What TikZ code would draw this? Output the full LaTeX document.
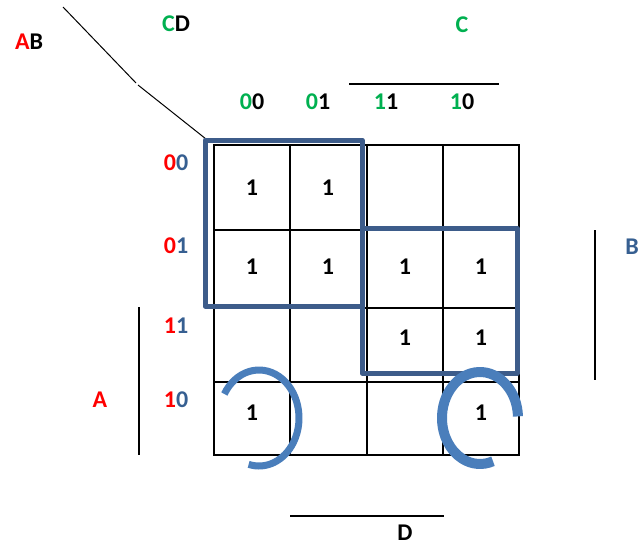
\documentclass[tikz,border=0pt]{standalone}
\usepackage{fontspec}
\setmainfont{Carlito}
\usepackage{xcolor}
\usetikzlibrary{positioning, calc}

\definecolor{kred}{RGB}{255,0,0}
\definecolor{kgreen}{RGB}{0,176,80}
\definecolor{kblue}{RGB}{54,95,145}
\definecolor{loopblue}{RGB}{61,92,138}
\definecolor{arcblue}{RGB}{74,126,187}

\begin{document}
\begin{tikzpicture}[
    x=1pt, y=-1pt,
    font=\fontsize{24}{26}\selectfont\bfseries,
    lbl/.style={
        inner sep=0pt,
        anchor=center
    },
    cellone/.style={
        lbl
    },
    gridline/.style={
        line width=2pt,
        draw=black
    },
    bar/.style={
        line width=1.6pt,
        draw=black
    },
    groupbox/.style={
        line width=5pt,
        draw=loopblue,
        line join=round
    },
    wrap/.style={
        draw=arcblue
    }
]
\useasboundingbox (0,0) rectangle (638,546);

% --- Corner labels -----------------------------------------------------------

\node[lbl] (ab) at (29,42) {\textcolor{kred}{A}B};
\node[lbl] (cd) at (176,24) {\textcolor{kgreen}{C}D};

\coordinate (diagtop) at (63,7);
\coordinate (diagmid) at (136,83);
\coordinate (diagmid2) at (138,85);
\coordinate (diagend) at (206,139);
\draw[line width=1pt] (diagtop) -- (diagmid);
\draw[line width=1pt] (diagmid2) -- (diagend);

% --- Column headers ----------------------------------------------------------

\node[lbl] (c00) at (252,102) {\textcolor{kgreen}{0}0};
\node[lbl] (c01) at (318,102) {\textcolor{kgreen}{0}1};
\node[lbl] (c11) at (386,102) {\textcolor{kgreen}{1}1};
\node[lbl] (c10) at (462,102) {\textcolor{kgreen}{1}0};

\node[lbl, text=kgreen] (clbl) at (462,25) {C};
\coordinate (cbarl) at (349,84);
\coordinate (cbarr) at (499,84);
\draw[bar] (cbarl) -- (cbarr);

% --- Row headers -------------------------------------------------------------

\node[lbl] (r00) at (176,163) {\textcolor{kred}{0}\textcolor{kblue}{0}};
\node[lbl] (r01) at (176,246) {\textcolor{kred}{0}\textcolor{kblue}{1}};
\node[lbl] (r11) at (176,326) {\textcolor{kred}{1}\textcolor{kblue}{1}};
\node[lbl] (r10) at (176,400) {\textcolor{kred}{1}\textcolor{kblue}{0}};

\node[lbl, text=kred] (albl) at (100,400) {A};
\coordinate (abart) at (139,307);
\coordinate (abarb) at (139,455);
\draw[bar] (abart) -- (abarb);

\node[lbl, text=kblue] (blbl) at (632,247) {B};
\coordinate (bbart) at (595,230);
\coordinate (bbarb) at (595,380);
\draw[bar] (bbart) -- (bbarb);

\node[lbl] (dlbl) at (405,533) {D};
\coordinate (dbarl) at (290,516);
\coordinate (dbarr) at (444,516);
\draw[bar] (dbarl) -- (dbarr);

% --- Map grid ----------------------------------------------------------------

\draw[gridline] (214,145) rectangle (519,455);
\draw[gridline] (290,145) -- (290,455);
\draw[gridline] (367,145) -- (367,455);
\draw[gridline] (443,145) -- (443,455);
\draw[gridline] (214,230) -- (519,230);
\draw[gridline] (214,308) -- (519,308);
\draw[gridline] (214,382) -- (519,382);

% --- Ones --------------------------------------------------------------------

\node[cellone] (m0) at (252,188) {1};
\node[cellone] (m1) at (328,188) {1};
\node[cellone] (m4) at (252,267) {1};
\node[cellone] (m5) at (328,267) {1};
\node[cellone] (m7) at (405,267) {1};
\node[cellone] (m6) at (481,267) {1};
\node[cellone] (m15) at (405,338) {1};
\node[cellone] (m14) at (481,338) {1};
\node[cellone] (m8) at (252,413) {1};
\node[cellone] (m10) at (481,413) {1};

% --- Groups ------------------------------------------------------------------

\draw[groupbox] (205,140) rectangle (362,306);
\draw[groupbox] (362,228) rectangle (517,373);

\draw[wrap, line width=7pt] (259,418) ++(-150:40 and 48)
    arc[start angle=-150, end angle=105, x radius=40, y radius=48];
\draw[wrap, line width=10pt] (480,418) ++(-2:38 and 46)
    arc[start angle=-2, end angle=-290, x radius=38, y radius=46];

\end{tikzpicture}
\end{document}
